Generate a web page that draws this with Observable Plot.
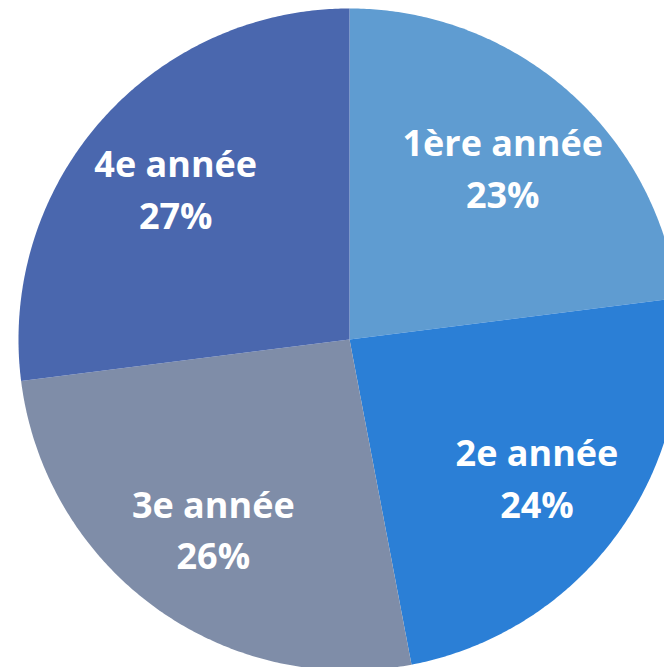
<!DOCTYPE html>
<html>
<head>
<meta charset="utf-8">
<script src="https://cdn.jsdelivr.net/npm/d3@7"></script>
<script src="https://cdn.jsdelivr.net/npm/@observablehq/plot@0.6"></script>
<style>
  html, body { margin: 0; padding: 0; background: #ffffff; }
  #chart { width: 664px; height: 667px; overflow: hidden; }
</style>
</head>
<body>
<div id="chart"></div>
<script>
// Data
const categories = ["1ère année", "2e année", "3e année", "4e année"];
const percents = [23, 24, 26, 27];
const colors = ["#5f9cd1", "#2b7fd6", "#7f8da8", "#4a67ae"];

// Layout
const W = 664, H = 667;
const CX = 349, CY = 339, R = 331;
const labelRadius = 0.70;

const arcs = d3.pie().sort(null).value(d => d)(percents);

// slice outlines in unit coordinates (angle clockwise from 12 o'clock)
const slicePoints = [];
arcs.forEach((a, i) => {
  const name = categories[i];
  slicePoints.push({name, x: 0, y: 0});
  const n = Math.max(2, Math.ceil((a.endAngle - a.startAngle) / (Math.PI / 360)));
  for (let k = 0; k <= n; k++) {
    const t = a.startAngle + (a.endAngle - a.startAngle) * k / n;
    slicePoints.push({name, x: Math.sin(t), y: Math.cos(t)});
  }
  slicePoints.push({name, x: 0, y: 0});
});

const labels = arcs.map((a, i) => {
  const m = (a.startAngle + a.endAngle) / 2;
  return {
    name: categories[i],
    x: labelRadius * Math.sin(m),
    y: labelRadius * Math.cos(m),
    text: categories[i] + "\n" + percents[i] + "%"
  };
});

const chart = Plot.plot({
  width: W,
  height: H,
  margin: 0,
  style: {background: "transparent", overflow: "hidden"},
  x: {domain: [-CX / R, (W - CX) / R], axis: null},
  y: {domain: [(CY - H) / R, CY / R], axis: null},
  color: {domain: categories, range: colors},
  marks: [
    Plot.line(slicePoints, {x: "x", y: "y", z: "name", fill: "name", stroke: "none", curve: "linear-closed"}),
    Plot.text(labels, {
      x: "x", y: "y", text: "text",
      fill: "white",
      fontSize: 36,
      fontWeight: "bold",
      fontFamily: "Open Sans",
      lineHeight: 1.44
    })
  ]
});

document.getElementById("chart").appendChild(chart);
</script>
</body>
</html>
